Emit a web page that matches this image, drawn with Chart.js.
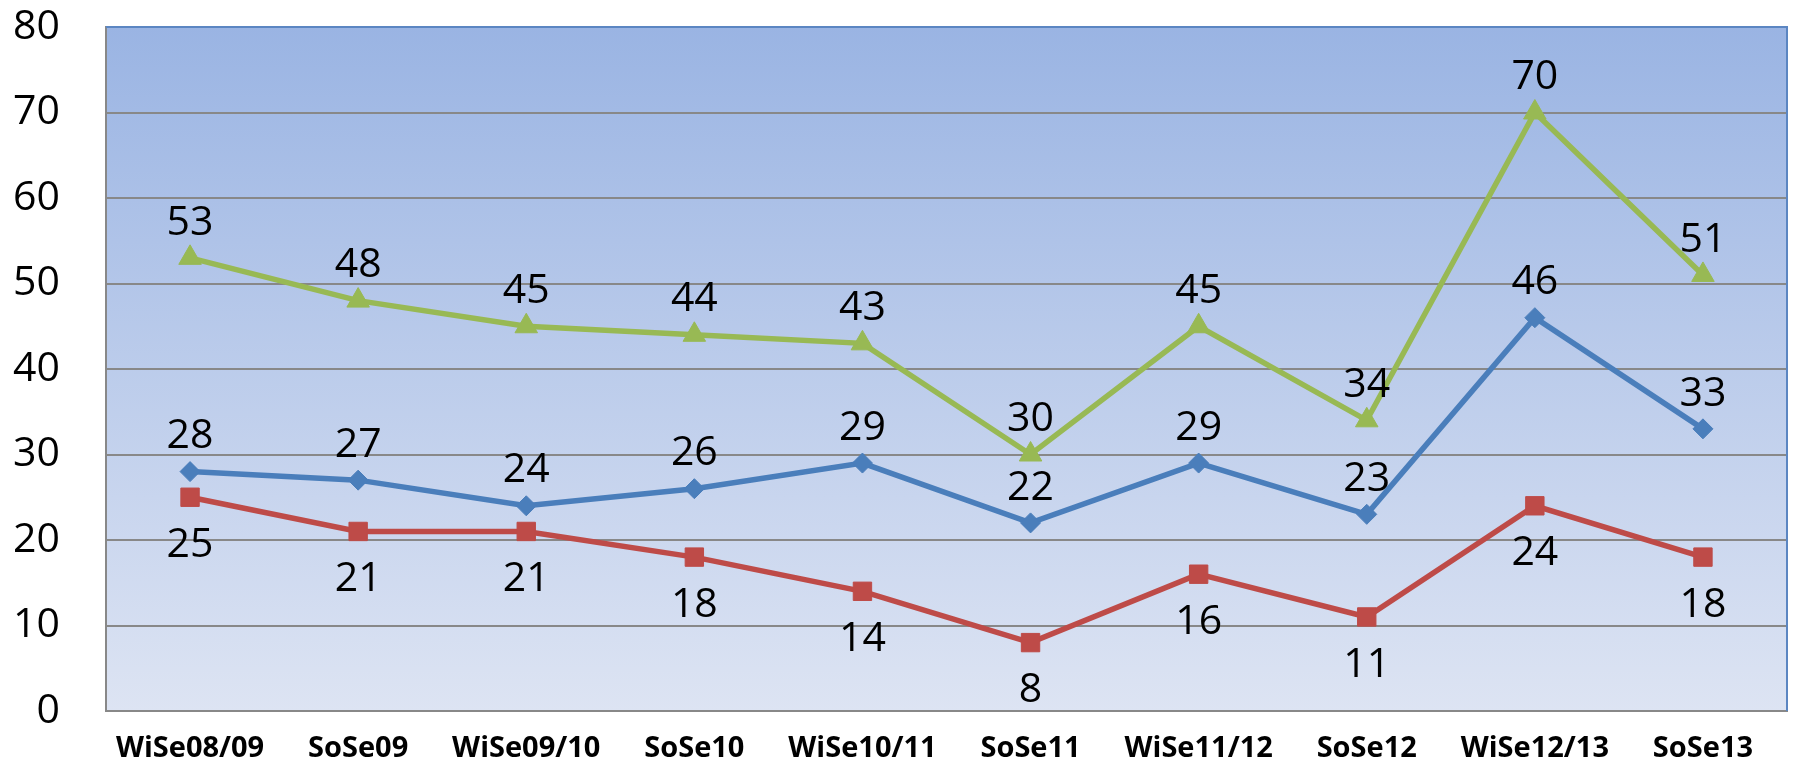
<!DOCTYPE html>
<html>
<head>
<meta charset="utf-8">
<script src="https://cdn.jsdelivr.net/npm/chart.js@4/dist/chart.umd.min.js"></script>
<style>
  html, body { margin: 0; padding: 0; background: #fff; }
  #chart { display: block; }
</style>
</head>
<body>
<canvas id="chart" width="1801" height="766"></canvas>
<script>
// semesters on the x axis
const semesters = ['WiSe08/09', 'SoSe09', 'WiSe09/10', 'SoSe10', 'WiSe10/11', 'SoSe11', 'WiSe11/12', 'SoSe12', 'WiSe12/13', 'SoSe13'];

// series values
const blueValues  = [28, 27, 24, 26, 29, 22, 29, 23, 46, 33];
const redValues   = [25, 21, 21, 18, 14, 8, 16, 11, 24, 18];
const greenValues = [53, 48, 45, 44, 43, 30, 45, 34, 70, 51];

const yMin = 0;
const yMax = 80;
const yStep = 10;

const FONT = '"Open Sans", "DejaVu Sans", sans-serif';

// plot background gradient + blue top/right frame
const plotArea = {
  id: 'plotArea',
  beforeDraw(chart) {
    const { ctx, chartArea: a } = chart;
    const g = ctx.createLinearGradient(0, a.top, 0, a.bottom);
    g.addColorStop(0, '#9ab4e3');
    g.addColorStop(1, '#dde4f3');
    ctx.save();
    ctx.fillStyle = g;
    ctx.fillRect(a.left, a.top, a.right - a.left, a.bottom - a.top);
    ctx.restore();
  },
  afterDraw(chart) {
    const { ctx, chartArea: a } = chart;
    ctx.save();
    ctx.strokeStyle = '#5b86c2';
    ctx.lineWidth = 2;
    ctx.beginPath();
    ctx.moveTo(a.left, a.top);
    ctx.lineTo(a.right, a.top);
    ctx.lineTo(a.right, a.bottom);
    ctx.stroke();
    ctx.restore();
  }
};

// value labels above / below each point
const valueLabels = {
  id: 'valueLabels',
  afterDatasetsDraw(chart) {
    const { ctx } = chart;
    ctx.save();
    ctx.font = '41px ' + FONT;
    ctx.fillStyle = '#000';
    ctx.textAlign = 'center';
    ctx.textBaseline = 'middle';
    chart.data.datasets.forEach((ds, i) => {
      const meta = chart.getDatasetMeta(i);
      meta.data.forEach((pt, j) => {
        const dy = ds.labelBelow ? 48 : -35;
        ctx.fillText(String(ds.data[j]), pt.x, pt.y + dy);
      });
    });
    ctx.restore();
  }
};

const line = (data, color, style, radius, below) => ({
  data,
  borderColor: color,
  backgroundColor: color,
  borderWidth: 5.5,
  pointStyle: style,
  pointRadius: radius,
  pointBorderWidth: 1,
  pointBackgroundColor: color,
  pointBorderColor: color,
  tension: 0,
  labelBelow: below
});

new Chart(document.getElementById('chart'), {
  type: 'line',
  data: {
    labels: semesters,
    datasets: [
      line(redValues, '#be4b48', 'rect', 13, true),
      line(blueValues, '#4a7ebb', 'rectRot', 10, false),
      line(greenValues, '#98b954', 'triangle', 13, false)
    ]
  },
  options: {
    responsive: false,
    animation: false,
    layout: { padding: { top: 27, right: 8, left: 0, bottom: 0 } },
    plugins: {
      legend: { display: false },
      tooltip: { enabled: false }
    },
    scales: {
      x: {
        offset: true,
        grid: { display: false, drawTicks: false },
        border: { display: true, color: '#888888', width: 2 },
        ticks: {
          color: '#000',
          font: { family: FONT, size: 29, weight: 'bold' },
          padding: 20,
          maxRotation: 0,
          autoSkip: false
        },
        afterFit(s) { s.height = 55; }
      },
      y: {
        min: yMin,
        max: yMax,
        // invisible tick marks push the labels left without adding top/bottom padding
        grid: { color: '#888888', lineWidth: 2, drawTicks: true, tickLength: 46, tickColor: 'rgba(0,0,0,0)' },
        border: { display: true, color: '#888888', width: 2 },
        ticks: {
          stepSize: yStep,
          color: '#000',
          font: { family: FONT, size: 41 },
          padding: 0
        },
        afterFit(s) { s.width = 106; }
      }
    }
  },
  plugins: [plotArea, valueLabels]
});
</script>
</body>
</html>
